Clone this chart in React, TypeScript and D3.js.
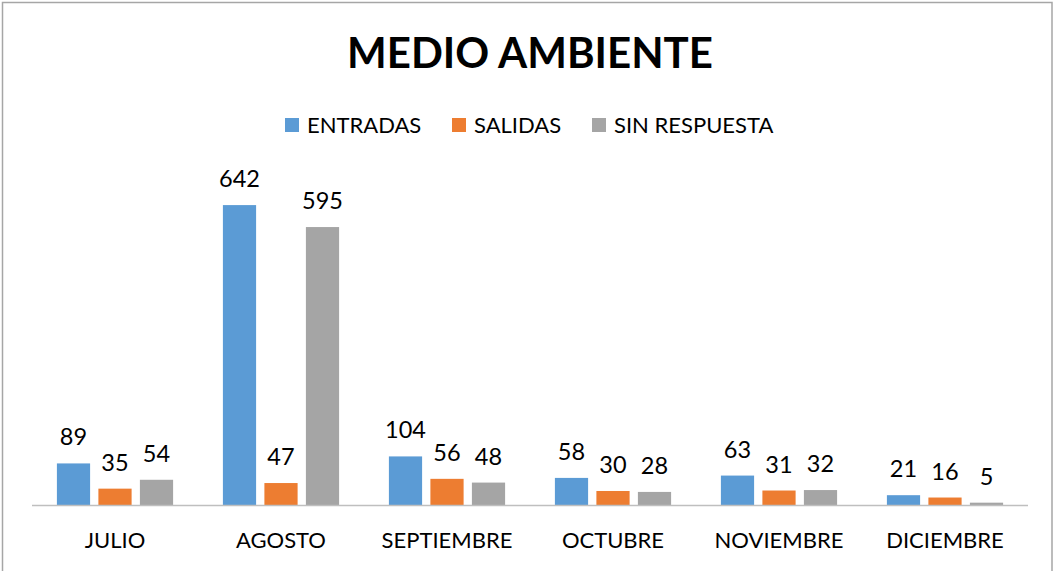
import React from "react";
import * as d3 from "d3";

const months = ["JULIO", "AGOSTO", "SEPTIEMBRE", "OCTUBRE", "NOVIEMBRE", "DICIEMBRE"];
const seriesNames = ["ENTRADAS", "SALIDAS", "SIN RESPUESTA"];
const entradas = [89, 642, 104, 58, 63, 21];
const salidas = [35, 47, 56, 30, 31, 16];
const sinRespuesta = [54, 595, 48, 28, 32, 5];
const colors = ["#5B9BD5", "#ED7D31", "#A5A5A5"];

const W = 1057;
const H = 571;
const FONT = "Lato, 'Open Sans', sans-serif";

export default function App() {
  const series = [entradas, salidas, sinRespuesta];
  const x0 = d3.scaleBand<string>().domain(months).range([32, 1028]).paddingInner(0.3).paddingOuter(0.15);
  const x1 = d3.scaleBand<number>().domain([0, 1, 2]).range([0, x0.bandwidth()]).paddingInner(0.2).paddingOuter(0);
  const y = d3.scaleLinear().domain([0, 700]).range([505, 178]);

  const legendX = [285, 452, 592];

  return (
    <div style={{ position: "fixed", left: 0, top: 0 }}>
      <svg width={W} height={H} style={{ display: "block", background: "#fff" }}>
        <rect x={2.5} y={2.5} width={1049.5} height={H} fill="#fff" stroke="#A6A6A6" strokeWidth={1.5} />
        <text x={530} y={68} textAnchor="middle" fontFamily={FONT} fontWeight="bold" fontSize={42} fill="#000">
          MEDIO AMBIENTE
        </text>
        {seriesNames.map((n, i) => (
          <g key={n}>
            <rect x={legendX[i]} y={118} width={14} height={14} fill={colors[i]} />
            <text x={legendX[i] + 22} y={133} fontFamily={FONT} fontSize={22} fill="#000">
              {n}
            </text>
          </g>
        ))}
        {months.map((m, mi) => (
          <g key={m} transform={`translate(${x0(m)},0)`}>
            {series.map((s, si) => (
              <g key={si}>
                <rect
                  x={x1(si)}
                  y={y(s[mi])}
                  width={x1.bandwidth()}
                  height={y(0) - y(s[mi])}
                  fill={colors[si]}
                />
                <text
                  x={(x1(si) as number) + x1.bandwidth() / 2}
                  y={y(s[mi]) - 18}
                  textAnchor="middle"
                  fontFamily={FONT}
                  fontSize={23.5}
                  fill="#000"
                >
                  {s[mi]}
                </text>
              </g>
            ))}
            <text
              x={x0.bandwidth() / 2}
              y={548}
              textAnchor="middle"
              fontFamily={FONT}
              fontSize={22}
              fill="#000"
            >
              {m}
            </text>
          </g>
        ))}
        <line x1={32} x2={1028} y1={505.5} y2={505.5} stroke="#BFBFBF" strokeWidth={1.5} />
      </svg>
    </div>
  );
}
